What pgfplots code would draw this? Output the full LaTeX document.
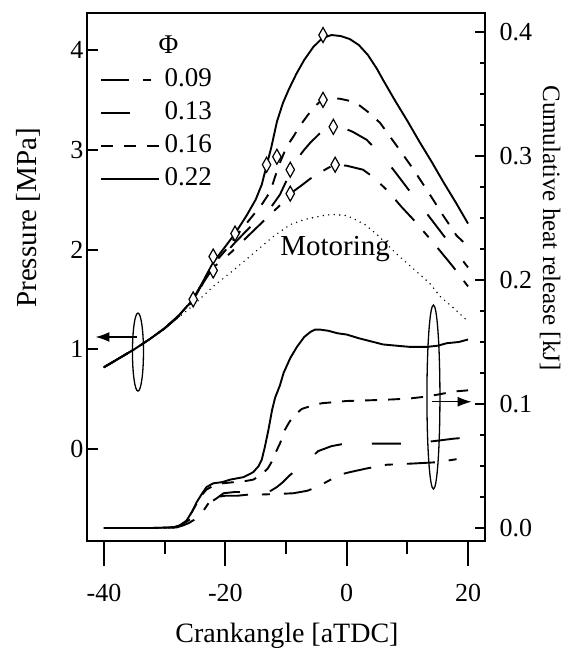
\documentclass[border=0pt]{standalone}
\usepackage{fontspec}
\setmainfont{Liberation Serif}
\usepackage{pgfplots}
\pgfplotsset{compat=1.18}
\usetikzlibrary{arrows.meta}
\begin{document}
\begin{tikzpicture}
\pgfplotsset{
  every axis/.append style={
    scale only axis, width=398pt, height=528pt,
    xmin=-42.8, xmax=22.8,
    axis line style={line width=2pt},
    every tick/.style={line width=2pt, black},
    /pgf/number format/assume math mode=true,
    tick label style={font=\fontsize{26}{26}\selectfont},
  },
  p22/.style={line width=1.9pt},
  p16/.style={line width=1.9pt, dash pattern=on 12pt off 11pt},
  p13/.style={line width=1.9pt, dash pattern=on 29pt off 30pt},
  p09/.style={line width=1.9pt, dash pattern=on 28pt off 14pt on 8pt off 14pt},
}
% ---------------- Pressure axis ----------------
\begin{axis}[name=p,
  ymin=-0.922, ymax=4.371,
  xtick=\empty,
  ytick={0,1,2,3,4},
  ytick pos=left,
  major tick length=11pt,
  ylabel={Pressure [MPa]},
  ylabel style={font=\fontsize{29}{29}\selectfont, at={(axis description cs:-0.148,0.612)}, anchor=center},
  legend style={draw=none, fill=none, at={(axis description cs:0.0327,0.968)}, anchor=north west,
    font=\fontsize{27}{27}\selectfont, row sep=0pt, inner sep=0pt,
    nodes={text height=19pt, text depth=5pt, inner sep=4.5pt}},
  legend cell align=left,
  legend image code/.code={\draw[#1] (0pt,0pt) -- (58pt,0pt);},
]
\addlegendimage{empty legend}
\addlegendentry{\hspace{-6pt}Φ}
% Phi = 0.09
\addplot[p09] coordinates {
(-40,0.82) (-37.5,0.91) (-35,1.00) (-32.5,1.10) (-30,1.21) (-27.5,1.34) (-25.3,1.49)
(-23.5,1.68) (-22,1.82) (-20,1.92) (-18.9,1.98) (-15.5,2.18) (-12.1,2.38) (-10.5,2.47)
(-9.3,2.56) (-7.5,2.64) (-6,2.71) (-4.7,2.76) (-3,2.82) (-1.9,2.85) (0,2.84) (2.7,2.80)
(4.5,2.72) (6.9,2.58) (9,2.43) (11.3,2.28) (14.8,2.03) (17.5,1.83) (20,1.63)};
\addlegendentry{0.09}
% Phi = 0.13
\addplot[p13] coordinates {
(-40,0.82) (-37.5,0.91) (-35,1.00) (-32.5,1.10) (-30,1.21) (-27.5,1.34) (-25.3,1.49)
(-23.5,1.69) (-22,1.84) (-20,1.96) (-18.4,2.07) (-16,2.22) (-14,2.33) (-12.4,2.43)
(-11,2.55) (-10,2.68) (-9.3,2.80) (-8,2.92) (-7,3.00) (-6,3.07) (-4.5,3.16) (-3,3.22)
(-2.2,3.23) (-1,3.23) (1,3.18) (3.3,3.10) (5.5,2.96) (7.7,2.80) (10.7,2.56) (14.6,2.25)
(17.6,2.01) (20,1.82)};
\addlegendentry{0.13}
% Phi = 0.16
\addplot[p16] coordinates {
(-40,0.82) (-37.5,0.91) (-35,1.00) (-32.5,1.10) (-30,1.21) (-27.5,1.35) (-25.3,1.50)
(-23.5,1.70) (-22,1.85) (-20,1.99) (-18.4,2.12) (-16,2.30) (-14,2.45) (-12.6,2.58)
(-11.8,2.73) (-11,2.87) (-9.9,3.03) (-8.8,3.13) (-7.7,3.24) (-6.5,3.34) (-5.5,3.42)
(-4.1,3.50) (-2.5,3.52) (-1,3.51) (0.5,3.49) (2,3.45) (3.5,3.38) (5.5,3.27) (8,3.06)
(10.7,2.83) (13.2,2.60) (15.7,2.36) (18.1,2.14) (19.5,2.06)};
\addlegendentry{0.16}
% Phi = 0.22
\addplot[p22] coordinates {
(-40,0.82) (-37.5,0.91) (-35,1.00) (-32.5,1.10) (-30,1.21) (-27.5,1.35) (-25.3,1.50)
(-23.5,1.70) (-22,1.87) (-20,2.03) (-18.4,2.16) (-16.5,2.34) (-15,2.50) (-14,2.65)
(-13.2,2.84) (-12.4,3.03) (-11.5,3.28) (-10.5,3.47) (-9.5,3.61) (-8.3,3.76) (-7,3.90)
(-5.5,4.03) (-4,4.12) (-2.5,4.15) (-1,4.14) (0.5,4.11) (2,4.05) (3.5,3.95) (5,3.81)
(6,3.70) (8,3.49) (10,3.29) (12,3.08) (14,2.88) (16,2.67) (18,2.47) (20,2.26)};
\addlegendentry{0.22}
% Motoring
\addplot[line width=1.6pt, line cap=round, dash pattern=on 0pt off 5.5pt, forget plot] coordinates {
(-40,0.82) (-37.5,0.91) (-35,1.00) (-32.5,1.10) (-30,1.21) (-27.5,1.33) (-25.3,1.44)
(-22,1.63) (-18.7,1.79) (-15.4,1.96) (-12.1,2.13) (-9.3,2.25) (-7,2.30) (-5.5,2.32)
(-3.5,2.345) (-2,2.35) (0,2.34) (1.1,2.31) (3,2.25) (5,2.15) (7,2.03) (8.5,1.94)
(10,1.86) (11.5,1.78) (13.7,1.66) (15.4,1.53) (17.5,1.42) (20,1.28)};
% event markers
\addplot[only marks, mark=diamond*, mark size=7.5pt,
  mark options={xscale=0.75, fill=white, draw=black, line width=1.2pt, solid}, forget plot] coordinates {
(-25.3,1.50) (-22,1.93) (-22,1.79) (-18.4,2.16) (-13.2,2.85) (-11.5,2.93)
(-9.3,2.80) (-9.3,2.56) (-3.9,4.15) (-3.9,3.50) (-2.2,3.23) (-1.9,2.85)};
\node[font=\fontsize{29}{29}\selectfont] at (axis cs:-1.9,2.00) {Motoring};
% annotations
\draw[line width=1.3pt] (axis cs:-34.4,0.972) ellipse (5.5pt and 39pt);
\draw[line width=1.3pt] (axis cs:14.3,0.521) ellipse (6.5pt and 92pt);
\draw[line width=1.4pt, -{Latex[length=14pt,width=10pt]}] (axis cs:-34.6,1.123) -- (axis cs:-41.4,1.123);
\draw[line width=1.4pt, -{Latex[length=14pt,width=10pt]}] (axis cs:14.0,0.474) -- (axis cs:20.6,0.474);
\end{axis}
% ---------------- Heat release axis ----------------
\begin{axis}[at={(p.south west)}, anchor=south west,
  ymin=-0.0105, ymax=0.4153,
  xtick=\empty,
  ytick={0,0.1,0.2,0.3,0.4}, minor y tick num=3,
  ytick pos=right, yticklabel pos=right,
  major tick length=10pt, minor tick length=5pt,
  yticklabel style={xshift=11pt, /pgf/number format/fixed, /pgf/number format/fixed zerofill, /pgf/number format/precision=1},
]
% Phi = 0.09
\addplot[p09] coordinates {
(-40,0) (-32,0) (-28,0.0005) (-27,0.002) (-26,0.004) (-25,0.007) (-24,0.011)
(-22.5,0.022) (-21.4,0.025) (-20,0.026) (-18,0.026) (-16,0.027) (-14,0.027) (-11,0.0275)
(-8.8,0.028) (-6.5,0.030) (-4.9,0.033) (-3,0.038) (-1.1,0.043) (0.5,0.045) (3.3,0.048)
(6.6,0.051) (11,0.052) (14.8,0.053) (17.5,0.055) (20,0.057)};
% Phi = 0.13
\addplot[p13] coordinates {
(-40,0) (-32,0) (-28.5,0.0005) (-27.5,0.002) (-26.4,0.005) (-25.5,0.008) (-24.7,0.012)
(-23,0.019) (-21.4,0.024) (-20.3,0.028) (-18.5,0.029) (-16.5,0.029) (-14,0.029)
(-12.5,0.030) (-11.5,0.033) (-10.5,0.037) (-9.5,0.042) (-8.5,0.046) (-7.4,0.049)
(-6,0.056) (-4.7,0.062) (-2.5,0.066) (-0.3,0.068) (4.7,0.068) (9.1,0.068) (12,0.069)
(14.3,0.070) (17.6,0.072) (20,0.073)};
% Phi = 0.16
\addplot[p16] coordinates {
(-40,0) (-32,0) (-28.5,0.0005) (-27.5,0.002) (-26.4,0.006) (-25.5,0.013) (-24.7,0.020)
(-23.8,0.027) (-23.1,0.031) (-22,0.034) (-20.5,0.036) (-18.5,0.037) (-16.5,0.038)
(-15.4,0.039) (-14,0.043) (-13,0.048) (-12.4,0.053) (-11.8,0.060) (-11,0.068)
(-10.2,0.079) (-9.5,0.085) (-8.8,0.090) (-7.4,0.096) (-5.5,0.099) (-4.1,0.1006)
(-2,0.1015) (0,0.1024) (4,0.103) (7.7,0.1037) (10.5,0.1045) (13.2,0.106) (15.5,0.108)
(17.6,0.110) (20,0.111)};
% Phi = 0.22
\addplot[p22] coordinates {
(-40,0) (-32,0) (-28.5,0.0005) (-27.5,0.002) (-26.4,0.006) (-25.5,0.013) (-24.7,0.021)
(-23.8,0.028) (-23.1,0.033) (-22,0.036) (-20.5,0.037) (-19.2,0.039) (-17,0.041)
(-15.4,0.045) (-14.5,0.050) (-14,0.055) (-13.5,0.065) (-12.9,0.079) (-12.3,0.095)
(-11.8,0.105) (-11,0.115) (-10.4,0.125) (-9.3,0.137) (-8.2,0.146) (-7,0.154)
(-6,0.158) (-5.2,0.160) (-4.4,0.160) (-3,0.159) (-1.5,0.157) (0,0.156) (2,0.153)
(4.4,0.150) (6,0.148) (8.2,0.147) (10.5,0.146) (13.2,0.146) (15,0.147) (16.5,0.149)
(18.5,0.150) (20,0.152)};
\end{axis}
% ---------------- Crank angle axis (x ticks only) ----------------
\begin{axis}[at={(p.south west)}, anchor=south west,
  ymin=0, ymax=1, ytick=\empty,
  xtick={-40,-20,0,20}, minor xtick={-30,-10,10},
  xtick pos=lower, xtick align=outside,
  major tick length=25pt, minor tick length=13pt,
  xticklabel style={yshift=-15pt},
  xlabel={Crankangle [aTDC]},
  xlabel style={font=\fontsize{28}{28}\selectfont, at={(axis description cs:0.5025,-0.18)}, anchor=center},
]
\end{axis}
\node[rotate=-90, font=\fontsize{25}{25}\selectfont] at ([xshift=463pt,yshift=313pt]p.south west) {Cumulative heat release [kJ]};
\pgfresetboundingbox
\path[use as bounding box] ([xshift=-87pt,yshift=-109pt]p.south west) rectangle ([xshift=83pt,yshift=13pt]p.north east);
\end{tikzpicture}
\end{document}
